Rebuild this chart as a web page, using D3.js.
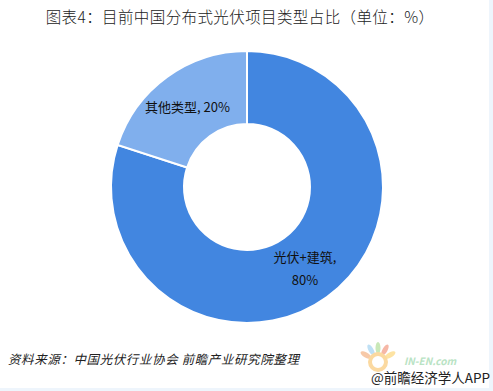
<!DOCTYPE html>
<html>
<head>
<meta charset="utf-8">
<script src="https://cdn.jsdelivr.net/npm/d3@7"></script>
<style>
  body { margin: 0; background: #fff; }
  svg { display: block; }
</style>
</head>
<body>
<svg id="chart"></svg>
<script>
// data
const categories = ["光伏+建筑", "其他类型"];
const shares = [80, 20];
const colors = ["#4286e0", "#80afed"];

const width = 493;
const height = 391;
const cx = 247;
const cy = 187;
const outerR = 136;
const innerR = 63;

const svg = d3.select("#chart")
    .attr("width", width)
    .attr("height", height)
    .style("font-family", "'Noto Sans CJK SC', sans-serif");

// light frame strips at right and bottom
svg.append("rect")
    .attr("x", 489).attr("y", 0)
    .attr("width", 4).attr("height", height)
    .attr("fill", "#eef5fc");
svg.append("rect")
    .attr("x", 0).attr("y", 388)
    .attr("width", width).attr("height", 3)
    .attr("fill", "#eef5fc");

// title
svg.append("text")
    .text("图表4：目前中国分布式光伏项目类型占比（单位：%）")
    .attr("x", 240)
    .attr("y", 23)
    .attr("text-anchor", "middle")
    .attr("font-size", 15.5)
    .attr("letter-spacing", 0.4)
    .attr("font-weight", 300)
    .attr("fill", "#222");

// donut
const pie = d3.pie().sort(null).value(d => d);
const arc = d3.arc().innerRadius(innerR).outerRadius(outerR);
const arcs = pie(shares);

const g = svg.append("g").attr("transform", `translate(${cx},${cy})`);

g.selectAll("path")
    .data(arcs)
    .enter()
    .append("path")
    .attr("d", arc)
    .attr("fill", (d, i) => colors[i])
    .attr("stroke", "#fff")
    .attr("stroke-width", 2);

// labels
g.append("text")
    .text(`${categories[1]}, ${shares[1]}%`)
    .attr("x", -102)
    .attr("y", -75)
    .attr("font-size", 13)
    .attr("fill", "#111");

const lab = g.append("text")
    .attr("font-size", 13)
    .attr("fill", "#111")
    .attr("text-anchor", "middle");
lab.append("tspan")
    .text(`${categories[0]},`)
    .attr("x", 58)
    .attr("y", 75);
lab.append("tspan")
    .text(`${shares[0]}%`)
    .attr("x", 58)
    .attr("y", 98);

// source (slanted like the original)
svg.append("text")
    .text("资料来源：中国光伏行业协会 前瞻产业研究院整理")
    .attr("x", 0)
    .attr("y", 0)
    .attr("font-size", 12.5)
    .attr("letter-spacing", 0.6)
    .attr("fill", "#222")
    .attr("transform", "translate(8,364) skewX(-14)");

// logo-ish mark
const logo = svg.append("g").attr("transform", "translate(378,362)");
const petals = ["#f7c9a8", "#bfe0f5", "#c9e8b8", "#f6b7a6", "#fde3a3"];
petals.forEach((c, i) => {
    const a = -150 + i * 30;
    logo.append("ellipse")
        .attr("cx", 0).attr("cy", -14)
        .attr("rx", 2.5).attr("ry", 6)
        .attr("fill", c)
        .attr("transform", `rotate(${a + 90})`);
});
logo.append("circle")
    .attr("r", 8)
    .attr("fill", "none")
    .attr("stroke", "#fbd9a0")
    .attr("stroke-width", 4);

svg.append("text")
    .text("IN-EN.com")
    .attr("x", 404)
    .attr("y", 365)
    .attr("font-size", 10)
    .attr("font-style", "italic")
    .attr("font-weight", "bold")
    .attr("fill", "#b9e3c4");

svg.append("text")
    .text("@前瞻经济学人APP")
    .attr("x", 490)
    .attr("y", 383)
    .attr("text-anchor", "end")
    .attr("font-size", 13.5)
    .attr("fill", "#222");
</script>
</body>
</html>
